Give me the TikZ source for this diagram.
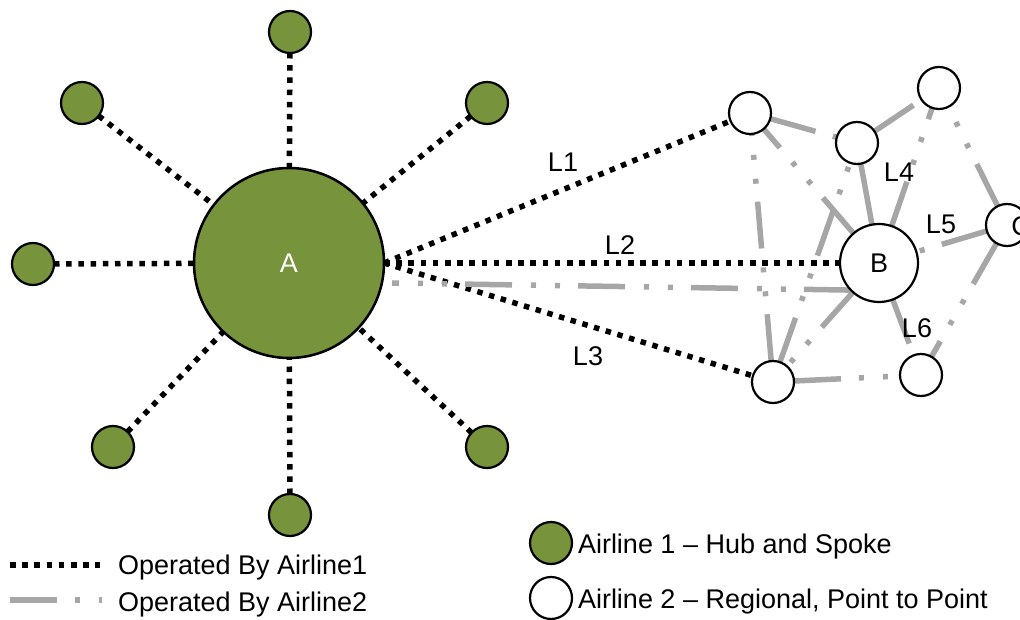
\documentclass[tikz,border=0pt]{standalone}
\usepackage{fontspec}
\setmainfont{Liberation Sans}
\definecolor{hubgreen}{HTML}{77933C}
\definecolor{routegray}{HTML}{A6A6A6}
\pgfdeclarelayer{routes}
\pgfsetlayers{routes,main}

\begin{document}
\begin{tikzpicture}[x=1pt,y=-1pt,
  every node/.style={font=\fontsize{27}{31}\selectfont, inner sep=0pt, outer sep=0pt},
  hub/.style={circle, draw, line width=2.5pt, fill=hubgreen, minimum size=190pt, text=white},
  spoke/.style={circle, draw, line width=2.2pt, fill=hubgreen, minimum size=42pt},
  city/.style={circle, draw, line width=2.2pt, fill=white, minimum size=42pt},
  bigcity/.style={circle, draw, line width=2.2pt, fill=white, minimum size=78pt},
  air1/.style={line width=5.5pt, dash pattern=on 5.5pt off 6.7pt},
  air2/.style={routegray, line width=5.5pt,
    dash pattern=on 47pt off 18pt on 5pt off 19pt on 5pt off 19pt},
]
\useasboundingbox (0,0) rectangle (1020,620);
\clip (0,0) rectangle (1020,620);

% Airline 1: hub and its spokes
\node[hub] (A) at (289,263) {A};
\node[spoke] (s1) at (290,32) {};
\node[spoke] (s2) at (487,103) {};
\node[spoke] (s3) at (82,103) {};
\node[spoke] (s4) at (33,264) {};
\node[spoke] (s5) at (113,447) {};
\node[spoke] (s6) at (290,515) {};
\node[spoke] (s7) at (487,447) {};

% Airline 2: regional network
\node[bigcity] (B) at (879,263) {B};
\node[city] (n1) at (750,113) {};
\node[city] (n2) at (857,143) {};
\node[city] (n3) at (939,88) {};
\node[city] (n4) at (1007,225) {};
\node[city] (n5) at (773,382) {};
\node[city] (n6) at (921,375) {};
\node (cl) at (1021,226) {C};

\coordinate (aend) at (392,283);

\begin{pgfonlayer}{routes}
  \foreach \s in {s1,s2,s3,s4,s5,s6,s7}
    \draw[air1] (\s) -- (A);
  \draw[air1] (A.east) -- (n1);
  \draw[air1] (A.east) -- (B);
  \draw[air1] (A.east) -- (n5);

  \draw[air2] (B.224) -- (aend);
  \draw[air2] (n1) -- (n2);
  \draw[air2] (B) -- (n1);
  \draw[air2] (n5) -- (n1);
  \draw[air2] (n2) -- (n3);
  \draw[air2, dash pattern=on 70pt off 40pt] (n2) -- (B);
  \draw[air2] (B) -- (n3);
  \draw[air2] (n4) -- (n3);
  \draw[air2] (n4) -- (B);
  \draw[air2] (n4) -- (n6);
  \draw[air2] (B) -- (n6);
  \draw[air2] (B) -- (n5);
  \draw[air2] (n5) -- (n2);
  \draw[air2] (n5) -- (n6);
\end{pgfonlayer}

% route labels
\node (l1) at (563,162) {L1};
\node (l2) at (620,245) {L2};
\node (l3) at (588,356) {L3};
\node (l4) at (899,172) {L4};
\node (l5) at (941,224) {L5};
\node (l6) at (917,328) {L6};

% legend
\coordinate (k1a) at (10,565);
\coordinate (k1b) at (100,565);
\coordinate (k2a) at (10,600);
\coordinate (k2b) at (102,600);
\draw[air1] (k1a) -- (k1b);
\draw[air2] (k2a) -- (k2b);
\node[anchor=base west] (t1) at (118,574.5) {Operated By Airline1};
\node[anchor=base west] (t2) at (118,611) {Operated By Airline2};

\node[spoke] (kg) at (551,543) {};
\node[city] (kw) at (551,598) {};
\node[anchor=base west] (t3) at (578,553.5) {Airline 1 – Hub and Spoke};
\node[anchor=base west] (t4) at (578,608.5) {Airline 2 – Regional, Point to Point};
\end{tikzpicture}
\end{document}
